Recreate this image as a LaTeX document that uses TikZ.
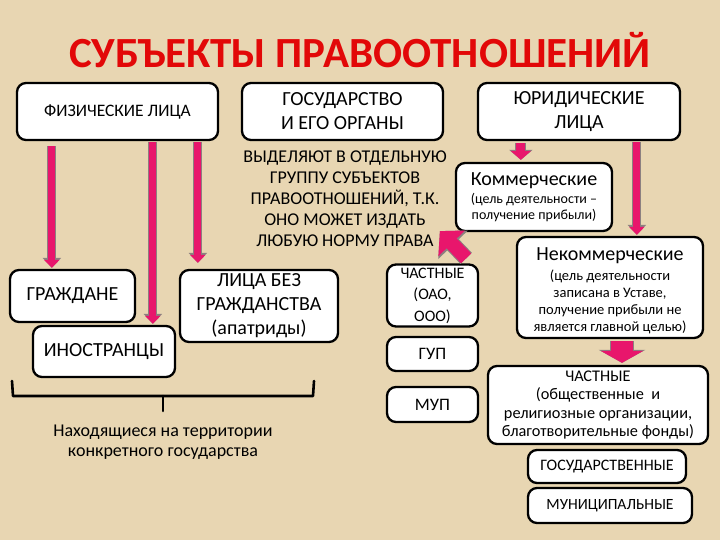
\documentclass[tikz,border=0pt]{standalone}
\usepackage{fontspec}
\setmainfont{Carlito}
\usetikzlibrary{arrows.meta}
\definecolor{bg}{RGB}{232,214,178}
\definecolor{titlered}{RGB}{226,8,8}
\definecolor{pinkc}{RGB}{232,22,108}
\definecolor{edgegray}{RGB}{140,128,128}
\newcommand{\fs}[2]{\fontsize{#1}{#2}\selectfont}
\tikzset{
  box/.style={draw=black, line width=2.3pt, rounded corners=9pt, fill=white, align=center, inner sep=0pt},
  pinkbar/.style={line width=7pt, draw=pinkc, -{Triangle[width=15pt,length=8pt,fill=pinkc]},
     preaction={draw=edgegray, line width=9pt, -{Triangle[width=18pt,length=10pt,fill=edgegray]}}},
  widebar/.style={line width=9pt, draw=pinkc, -{Triangle[width=20pt,length=9pt,fill=pinkc]},
     preaction={draw=edgegray, line width=11pt, -{Triangle[width=23pt,length=10pt,fill=edgegray]}}},
  bigarrow/.style={line width=22pt, draw=pinkc, -{Triangle[width=42pt,length=12pt,fill=pinkc]},
     preaction={draw=edgegray, line width=24pt, -{Triangle[width=46pt,length=13pt,fill=edgegray]}}},
  fatarrow/.style={line width=14pt, draw=pinkc, -{Triangle[width=36pt,length=17pt,fill=pinkc]},
     preaction={draw=edgegray, line width=16pt, -{Triangle[width=40pt,length=19pt,fill=edgegray]}}},
  brace/.style={draw=black, line width=2.6pt, line cap=round, line join=round},
  plain/.style={align=center, inner sep=0pt}
}
\begin{document}
\begin{tikzpicture}[x=1pt,y=-1pt]
\fill[bg] (0,0) rectangle (720,540);
\useasboundingbox (0,0) rectangle (720,540);

\node[plain, text=titlered, font=\fs{43}{46}\bfseries] (title) at (360,50) {СУБЪЕКТЫ ПРАВООТНОШЕНИЙ};

\node[box, minimum width=201, minimum height=57, font=\fs{17.5}{24}] (fiz) at (117.5,111.5) {ФИЗИЧЕСКИЕ ЛИЦА};
\node[box, minimum width=201, minimum height=57, font=\fs{20}{24}] (gos) at (342.5,111.5) {ГОСУДАРСТВО\\И ЕГО ОРГАНЫ};
\node[box, minimum width=202, minimum height=57, font=\fs{20}{24}] (yur) at (579,111.5) {ЮРИДИЧЕСКИЕ\\ЛИЦА};

\node[plain, font=\fs{18}{21}] (vyd) at (345,199) {ВЫДЕЛЯЮТ В ОТДЕЛЬНУЮ\\ГРУППУ СУБЪЕКТОВ\\ПРАВООТНОШЕНИЙ, Т.К.\\ОНО МОЖЕТ ИЗДАТЬ\\ЛЮБУЮ НОРМУ ПРАВА};

\node[box, minimum width=156, minimum height=68, font=\fs{14}{16}] (kom) at (534,197) {{\fs{20}{20}Коммерческие}\\[2pt](цель деятельности –\\получение прибыли)};
\node[box, minimum width=186, minimum height=101] (nekom) at (610,287.5) {};
\node[plain, font=\fs{14.5}{17}] (nekomtxt) at (610,291) {{\fs{20}{20}Некоммерческие}\\[3pt](цель деятельности\\записана в Уставе,\\получение прибыли не\\является главной целью)};

\node[box, minimum width=125, minimum height=52, font=\fs{20}{24}] (gr) at (72.5,296) {ГРАЖДАНЕ};
\node[box, minimum width=142, minimum height=51, font=\fs{20}{24}] (ino) at (104,351.5) {ИНОСТРАНЦЫ};
\node[box, minimum width=158, minimum height=72, font=\fs{20}{24}] (bez) at (259,306) {ЛИЦА БЕЗ\\ГРАЖДАНСТВА\\(апатриды)};

\node[box, minimum width=91, minimum height=62, font=\fs{16}{21.5}] (chast) at (432.5,295.5) {ЧАСТНЫЕ\\(ОАО,\\ООО)};
\node[box, minimum width=91, minimum height=34, font=\fs{17.5}{18}] (gup) at (432.5,354) {ГУП};
\node[box, minimum width=91, minimum height=35, font=\fs{17.5}{18}] (mup) at (432.5,404.5) {МУП};

\node[box, minimum width=220, minimum height=78, font=\fs{16.3}{18.5}] (chast2) at (598,405) {ЧАСТНЫЕ\\(общественные \ и\\религиозные организации,\\благотворительные фонды)};
\node[box, minimum width=158, minimum height=33, font=\fs{16}{18}] (gosud) at (607,466.5) {ГОСУДАРСТВЕННЫЕ};
\node[box, minimum width=164, minimum height=35, font=\fs{15.6}{18}] (mun) at (610,505.5) {МУНИЦИПАЛЬНЫЕ};

\node[plain, font=\fs{18}{20}] (terr) at (163,442) {Находящиеся на территории\\конкретного государства};

% arrows from ФИЗИЧЕСКИЕ ЛИЦА
\draw[pinkbar] ([xshift=36,yshift=-5]fiz.south west) -- ([xshift=43,yshift=1]gr.north west);
\draw[pinkbar] ([xshift=137,yshift=-1]fiz.south west) -- ([xshift=121,yshift=1]ino.north west);
\draw[pinkbar] ([xshift=182,yshift=-1]fiz.south west) -- ([xshift=19,yshift=6]bez.north west);

% arrows from ЮРИДИЧЕСКИЕ ЛИЦА
\draw[widebar] ([xshift=44,yshift=-2]yur.south west) -- ([xshift=66,yshift=2]kom.north west);
\draw[pinkbar] ([xshift=160,yshift=-1]yur.south west) -- ([xshift=121,yshift=1]nekom.north west);

% arrow from Некоммерческие to ЧАСТНЫЕ
\draw[bigarrow] ([xshift=12,yshift=-2]nekom.south) -- ([xshift=24,yshift=2]chast2.north);

% arrow from ЧАСТНЫЕ (ОАО) towards the note
\draw[fatarrow] ([xshift=-13,yshift=5]chast.north east) -- ([xshift=-7,yshift=16]vyd.south east);

% brace
\draw[brace] (12,381) -- (13,396) -- (313,396) -- (314,381);
\draw[brace] (163,396) -- (163,411);
\end{tikzpicture}
\end{document}
